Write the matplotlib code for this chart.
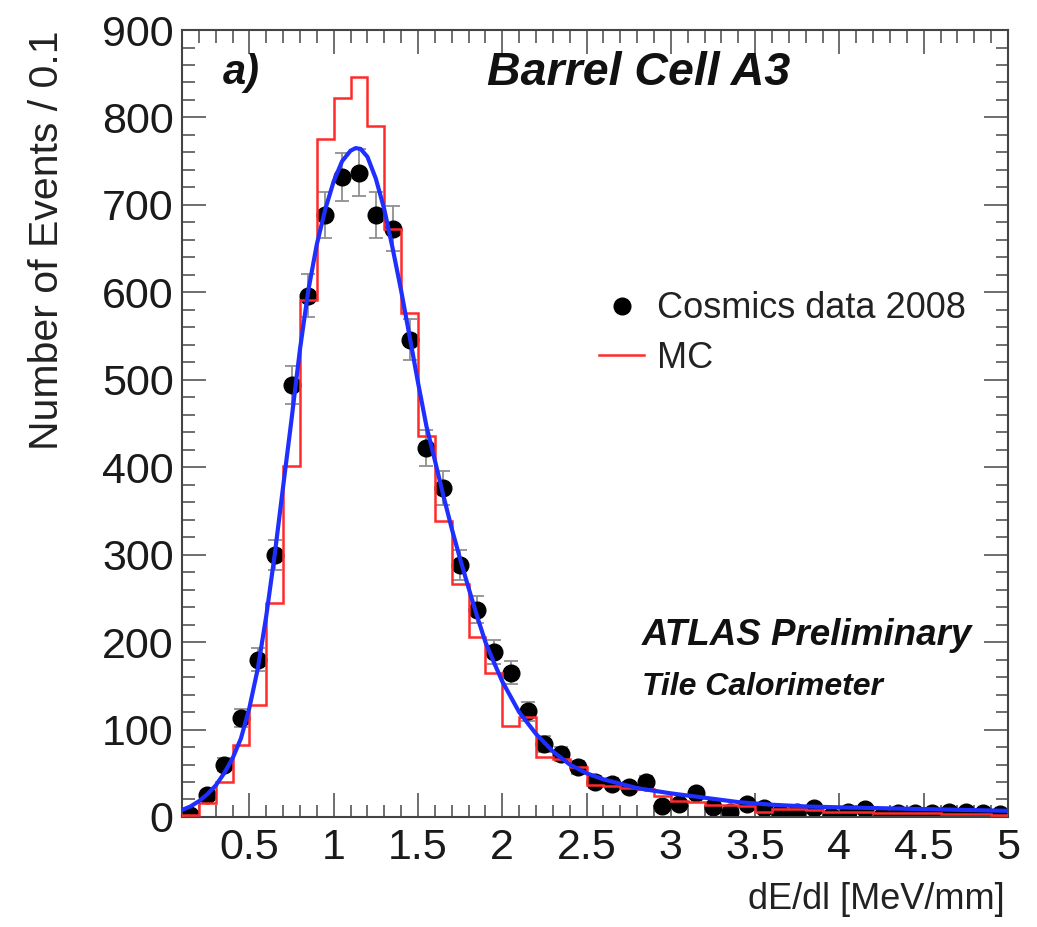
import numpy as np
import matplotlib
matplotlib.use("Agg")
import matplotlib.pyplot as plt
from matplotlib.lines import Line2D
from matplotlib.ticker import MultipleLocator

plt.rcParams['font.family'] = ['Liberation Sans', 'DejaVu Sans']

# dE/dl binning, 0.1 MeV/mm wide bins from 0.1 to 5.0
bin_edges = np.round(np.arange(0.1, 5.0001, 0.1), 2)
bin_centres = bin_edges[:-1] + 0.05

# cosmics data 2008, events per bin
data_counts = [2, 25, 60, 113, 180, 300, 494, 596, 688, 732,
               737, 688, 673, 546, 422, 376, 288, 237, 189, 165,
               121, 83, 72, 57, 40, 38, 34, 40, 13, 15,
               27, 11, 6, 15, 10, 5, 6, 10, 1, 6,
               9, 1, 4, 5, 4, 6, 6, 5, 3]

# MC prediction, events per bin
mc_counts = [2, 16, 40, 82, 128, 245, 401, 591, 775, 822,
             846, 790, 672, 576, 436, 338, 266, 206, 165, 104,
             114, 69, 66, 57, 36, 35, 33, 32, 24, 18,
             17, 14, 14, 12, 6, 9, 9, 8, 6, 6,
             6, 5, 5, 5, 4, 3, 3, 3, 2]

# fitted curve, sampled along dE/dl
fit_x = [0.10, 0.15, 0.20, 0.25, 0.30, 0.35, 0.40, 0.45, 0.50, 0.55,
         0.60, 0.65, 0.70, 0.75, 0.80, 0.85, 0.90, 0.95, 1.00, 1.05,
         1.10, 1.13, 1.16, 1.20, 1.25, 1.30, 1.35, 1.40, 1.45, 1.50,
         1.55, 1.60, 1.65, 1.70, 1.75, 1.80, 1.85, 1.90, 1.95, 2.00,
         2.10, 2.20, 2.30, 2.40, 2.50, 2.60, 2.80, 3.00, 3.20, 3.40,
         3.60, 3.80, 4.00, 4.50, 5.00]
fit_y = [8, 12, 18, 26, 36, 50, 67, 90, 125, 170,
         230, 300, 378, 455, 535, 603, 655, 695, 727, 750,
         762, 765, 764, 755, 730, 695, 650, 602, 550, 497,
         447, 408, 368, 330, 295, 262, 230, 200, 177, 155,
         120, 95, 75, 60, 50, 43, 33, 27, 22, 17,
         14, 12, 11, 9, 7]

fig = plt.figure(figsize=(10.37, 9.27), dpi=100)
ax = fig.add_axes([0.1755, 0.1187, 0.7965, 0.8489])

data_counts = np.array(data_counts)
ax.errorbar(bin_centres, data_counts, yerr=np.sqrt(data_counts),
            fmt='o', color='black', ms=12, ecolor='#909090',
            elinewidth=1.3, capsize=5, capthick=1.3, zorder=2)
ax.stairs(mc_counts, bin_edges, color='#ff2a2a', lw=1.8, zorder=3)
ax.plot(fit_x, fit_y, color='#1f2fff', lw=3, zorder=4)

ax.set_xlim(0.1, 5.0)
ax.set_ylim(0, 900)
ax.xaxis.set_major_locator(MultipleLocator(0.5))
ax.xaxis.set_minor_locator(MultipleLocator(0.1))
ax.yaxis.set_major_locator(MultipleLocator(100))
ax.yaxis.set_minor_locator(MultipleLocator(20))
ax.set_xticks(np.arange(0.5, 5.01, 0.5))
ax.set_xticklabels(['0.5', '1', '1.5', '2', '2.5', '3', '3.5', '4', '4.5', '5'])

ax.tick_params(which='both', direction='in', top=True, right=True,
               colors='#555555', labelcolor='#1a1a1a', labelsize=31)
ax.tick_params(which='major', length=17, width=1.2)
ax.tick_params(which='minor', length=9, width=1.2)
ax.tick_params(axis='x', pad=8)
ax.tick_params(axis='y', pad=6)
for s in ax.spines.values():
    s.set_color('#444444')
    s.set_linewidth(1.5)

ax.set_ylabel('Number of Events / 0.1', fontsize=29.5, color='#222222', loc='top')
ax.yaxis.set_label_coords(-0.14, 1.0)
ax.set_xlabel('dE/dl [MeV/mm]', fontsize=26, color='#222222', loc='right')
ax.xaxis.set_label_coords(0.996, -0.083)

ax.text(0.05, 0.945, 'a)', transform=ax.transAxes, fontsize=30,
        fontweight='bold', fontstyle='italic', va='center', color='#111111')
ax.text(0.369, 0.945, 'Barrel Cell A3', transform=ax.transAxes, fontsize=33.5,
        fontweight='bold', fontstyle='italic', va='center', color='#111111')
ax.text(0.557, 0.231, 'ATLAS Preliminary', transform=ax.transAxes,
        fontsize=26.5, fontweight='bold', fontstyle='italic', va='center',
        color='#111111')
ax.text(0.557, 0.165, 'Tile Calorimeter', transform=ax.transAxes,
        fontsize=23, fontweight='bold', fontstyle='italic', va='center',
        color='#111111')

handles = [Line2D([], [], marker='o', ls='none', color='black', ms=12),
           Line2D([], [], color='#ff2a2a', lw=1.8)]
ax.legend(handles, ['Cosmics data 2008', 'MC'], loc='upper left',
          bbox_to_anchor=(0.505, 0.668), frameon=False, fontsize=26,
          handlelength=1.25, handletextpad=0.35, labelspacing=0.4,
          borderpad=0, borderaxespad=0, labelcolor='#222222')

fig.savefig('out.png', dpi=100)
